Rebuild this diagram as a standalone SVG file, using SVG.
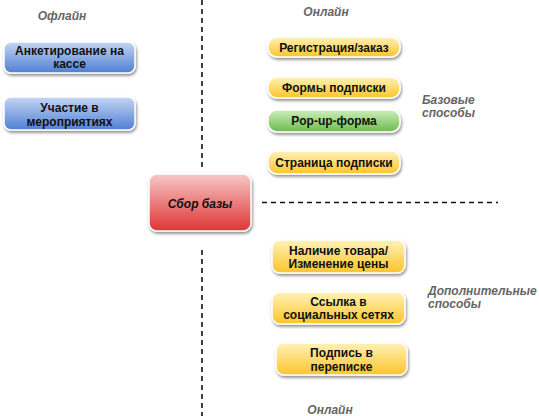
<svg xmlns="http://www.w3.org/2000/svg" width="539" height="416" viewBox="0 0 539 416">
<defs>
<linearGradient id="gBlue" x1="0" y1="0" x2="0" y2="1"><stop offset="0" stop-color="#c4d6f4"/><stop offset="1" stop-color="#4f7fd3"/></linearGradient>
<linearGradient id="gYel" x1="0" y1="0" x2="0" y2="1"><stop offset="0" stop-color="#fff2b8"/><stop offset="1" stop-color="#fcc42a"/></linearGradient>
<linearGradient id="gGreen" x1="0" y1="0" x2="0" y2="1"><stop offset="0" stop-color="#cdeebb"/><stop offset="1" stop-color="#6dbb4c"/></linearGradient>
<linearGradient id="gRed" x1="0" y1="0" x2="0" y2="1"><stop offset="0" stop-color="#f8c8c8"/><stop offset="1" stop-color="#de3434"/></linearGradient>
<filter id="sh" x="-20%" y="-30%" width="140%" height="170%"><feGaussianBlur in="SourceAlpha" stdDeviation="1.5"/><feOffset dx="1" dy="2" result="b"/><feComponentTransfer><feFuncA type="linear" slope="0.45"/></feComponentTransfer><feMerge><feMergeNode/><feMergeNode in="SourceGraphic"/></feMerge></filter>
</defs>
<style>
.box{stroke:#fff;stroke-width:1.5;filter:url(#sh)}
.t{font-family:"Liberation Sans",Arial,sans-serif;font-weight:bold;font-size:12px;fill:#111;text-anchor:middle}
.lbl{font-family:"Liberation Sans",Arial,sans-serif;font-weight:bold;font-style:italic;font-size:12px;fill:#666}
.dash{stroke:#111;stroke-width:1.6;stroke-dasharray:5 4;fill:none}
</style>
<rect width="539" height="416" fill="#fff"/>
<g id="connectors">
<line class="dash" x1="202" y1="0" x2="202" y2="168"/>
<line class="dash" x1="202" y1="250" x2="202" y2="416"/>
<line class="dash" x1="262" y1="202.5" x2="498" y2="202.5"/>
</g>
<g id="labels">
<text class="lbl" x="62" y="20" text-anchor="middle">Офлайн</text>
<text class="lbl" x="326" y="16" text-anchor="middle">Онлайн</text>
<text class="lbl" x="330" y="414" text-anchor="middle">Онлайн</text>
<text class="lbl" x="422" y="104">Базовые</text>
<text class="lbl" x="422" y="117">способы</text>
<text class="lbl" x="428" y="295">Дополнительные</text>
<text class="lbl" x="428" y="308">способы</text>
</g>
<g id="n-anket"><rect class="box" x="4" y="42" width="131" height="31" rx="7" fill="url(#gBlue)"/><text class="t" x="69.5" y="55">Анкетирование на</text><text class="t" x="69.5" y="68">кассе</text></g>
<g id="n-event"><rect class="box" x="4" y="97" width="131" height="33" rx="7" fill="url(#gBlue)"/><text class="t" x="69.5" y="112">Участие в</text><text class="t" x="69.5" y="126">мероприятиях</text></g>
<g id="n-center"><rect class="box" x="149" y="174" width="102" height="57" rx="8" fill="url(#gRed)"/><text class="t" x="200" y="208" font-style="italic" font-size="14">Сбор базы</text></g>
<g id="n-reg"><rect class="box" x="268" y="37" width="132" height="20" rx="9" fill="url(#gYel)"/><text class="t" x="334" y="51.5">Регистрация/заказ</text></g>
<g id="n-forms"><rect class="box" x="268" y="77" width="132" height="21" rx="9" fill="url(#gYel)"/><text class="t" x="334" y="91.5">Формы подписки</text></g>
<g id="n-popup"><rect class="box" x="268" y="110" width="132" height="22" rx="9" fill="url(#gGreen)"/><text class="t" x="334" y="125">Pop-up-форма</text></g>
<g id="n-page"><rect class="box" x="268" y="151" width="132" height="23" rx="9" fill="url(#gYel)"/><text class="t" x="334" y="167">Страница подписки</text></g>
<g id="n-stock"><rect class="box" x="272" y="240" width="133" height="33" rx="8" fill="url(#gYel)"/><text class="t" x="338.5" y="255">Наличие товара/</text><text class="t" x="338.5" y="268">Изменение цены</text></g>
<g id="n-social"><rect class="box" x="272" y="292" width="133" height="32" rx="8" fill="url(#gYel)"/><text class="t" x="338.5" y="306">Ссылка в</text><text class="t" x="338.5" y="319">социальных сетях</text></g>
<g id="n-sign"><rect class="box" x="276" y="343" width="131" height="32" rx="8" fill="url(#gYel)"/><text class="t" x="341.5" y="357">Подпись в</text><text class="t" x="341.5" y="371">переписке</text></g>
</svg>
